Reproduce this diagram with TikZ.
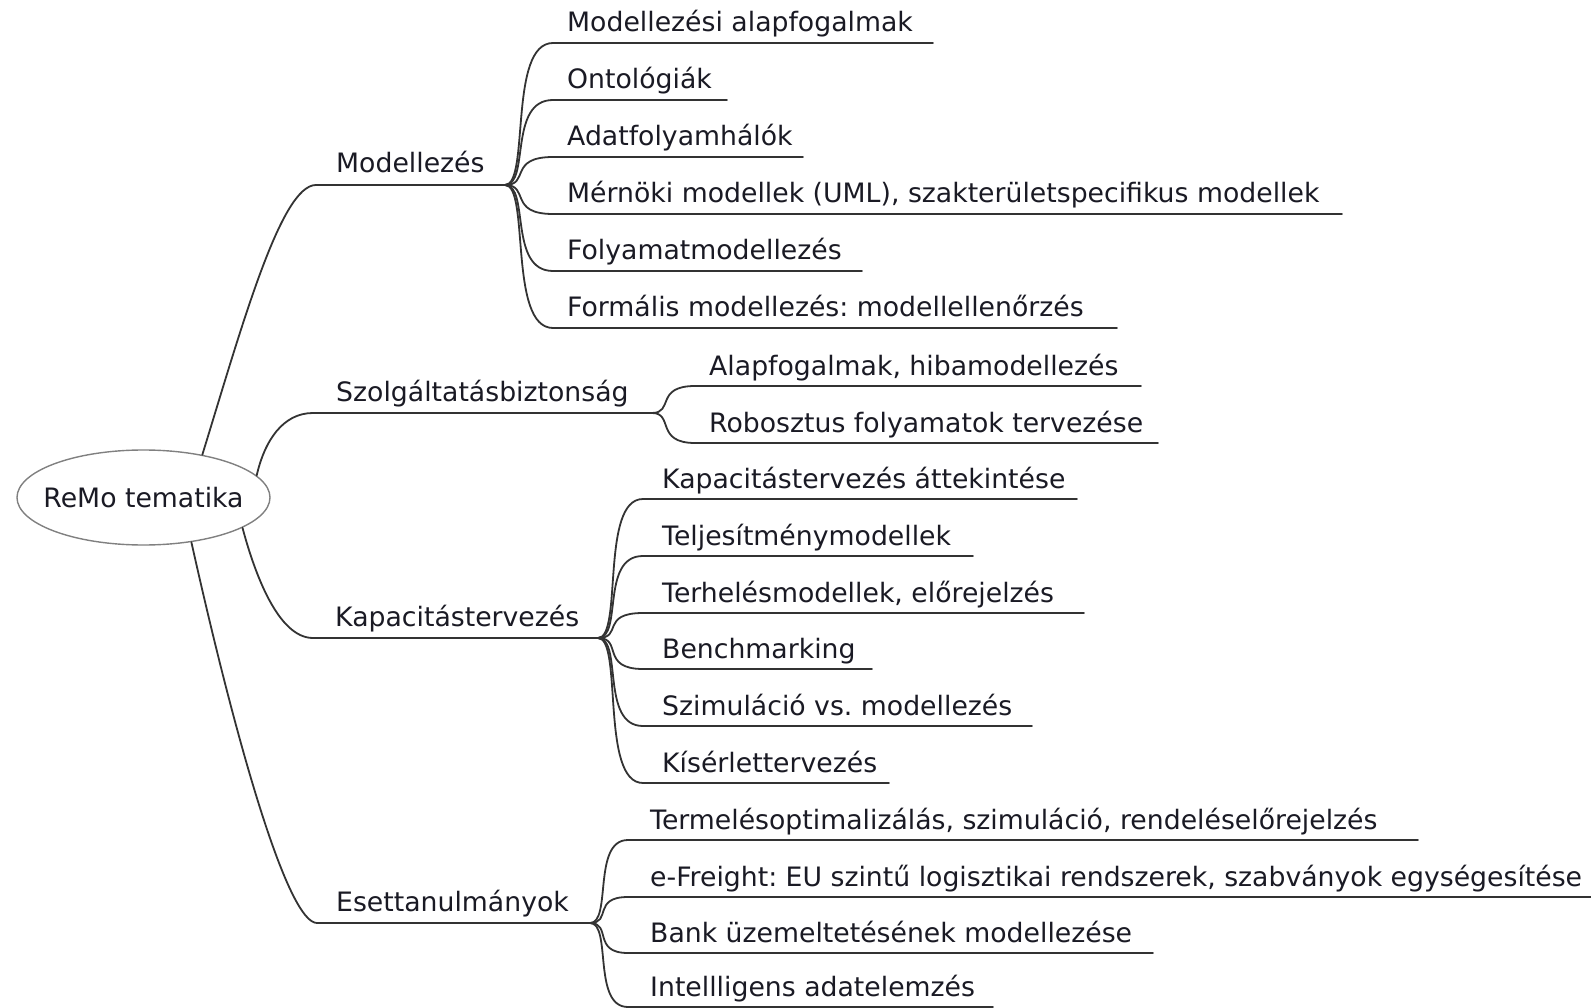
\documentclass[tikz,border=0pt]{standalone}
\usepackage{fontspec}
\setmainfont{DejaVu Sans}
\usetikzlibrary{shapes.geometric}
\frenchspacing

\definecolor{edgecol}{HTML}{333333}
\definecolor{rimcol}{HTML}{808080}
\definecolor{txtcol}{HTML}{1A1A24}

\begin{document}
\begin{tikzpicture}[x=1pt,y=-1pt,
  lbl/.style={anchor=base west, inner sep=0pt, text=txtcol,
              font=\fontsize{26.7}{32}\selectfont},
  edge/.style={draw=edgecol, line width=1.8pt, line cap=round},
  hub/.style={ellipse, draw=rimcol, line width=1.4pt, fill=white,
              minimum width=253pt, minimum height=95pt, inner sep=0pt}]

% canvas
\fill[white] (0,0) rectangle (1591,1008);
\useasboundingbox (0,0) rectangle (1591,1008);

% central topic
\node[hub] (root) at (143.5,497.5) {};
\node[inner sep=0pt, text=txtcol, font=\fontsize{26.7}{32}\selectfont]
  (roottxt) at (root.center) {ReMo tematika};

% main topics: label, underline start and branching point
\node[lbl] (mod) at (336,173) {Modellezés};
\coordinate (m0) at (316,185);  \coordinate (mB) at (505,185);
\node[lbl] (szb) at (336,401) {Szolgáltatásbiztonság};
\coordinate (s0) at (313,413);  \coordinate (sB) at (652,413);
\node[lbl] (kap) at (335,626) {Kapacitástervezés};
\coordinate (k0) at (313,638);  \coordinate (kB) at (598,638);
\node[lbl] (ese) at (336,911) {Esettanulmányok};
\coordinate (e0) at (317,923);  \coordinate (eB) at (590,923);

% connectors from the central topic
\draw[edge] (root.36) .. controls +(40,-130) and +(-35,0) .. (m0) -- (mB);
\draw[edge] (root.11) .. controls +(8,-35) and +(-30,0) .. (s0) -- (sB);
\draw[edge] (root.-17) .. controls +(12,45) and +(-35,0) .. (k0) -- (kB);
\draw[edge] (root.-43) .. controls +(48,215) and +(-28,0) .. (e0) -- (eB);

% subtopics of Modellezés
\foreach \n/\y/\e/\t in {
  ma/43/933/{Modellezési alapfogalmak},
  mb/100/727/{Ontológiák},
  mc/157/803/{Adatfolyamhálók},
  md/214/1342/{Mérnöki modellek (UML), szakterületspecifikus modellek},
  me/271/862/{Folyamatmodellezés},
  mf/328/1117/{Formális modellezés: modellellenőrzés}} {
  \coordinate (j\n) at (553,\y);
  \coordinate (x\n) at (\e,\y);
  \node[lbl] (\n) at (567,\y-11) {\t};
  \draw[edge] (mB) .. controls +(25,0) and +(-45,0) .. (j\n) -- (x\n);
}

% subtopics of Szolgáltatásbiztonság
\foreach \n/\y/\e/\t in {
  sa/386/1141/{Alapfogalmak, hibamodellezés},
  sb/443/1158/{Robosztus folyamatok tervezése}} {
  \coordinate (j\n) at (695,\y);
  \coordinate (x\n) at (\e,\y);
  \node[lbl] (\n) at (709,\y-11) {\t};
  \draw[edge] (sB) .. controls +(22,0) and +(-40,0) .. (j\n) -- (x\n);
}

% subtopics of Kapacitástervezés
\foreach \n/\y/\e/\t in {
  ka/499/1077/{Kapacitástervezés áttekintése},
  kb/556/973/{Teljesítménymodellek},
  kc/613/1084/{Terhelésmodellek, előrejelzés},
  kd/669/872/{Benchmarking},
  ke/726/1032/{Szimuláció vs. modellezés},
  kf/783/889/{Kísérlettervezés}} {
  \coordinate (j\n) at (643,\y);
  \coordinate (x\n) at (\e,\y);
  \node[lbl] (\n) at (662,\y-11) {\t};
  \draw[edge] (kB) .. controls +(25,0) and +(-43,0) .. (j\n) -- (x\n);
}

% subtopics of Esettanulmányok
\foreach \n/\y/\e/\t in {
  ea/840/1418/{Termelésoptimalizálás, szimuláció, rendeléselőrejelzés},
  eb/897/1591/{e-Freight: EU szintű logisztikai rendszerek, szabványok egységesítése},
  ec/953/1153/{Bank üzemeltetésének modellezése},
  ed/1007/993/{Intellligens adatelemzés}} {
  \coordinate (j\n) at (628,\y);
  \coordinate (x\n) at (\e,\y);
  \node[lbl] (\n) at (650,\y-11) {\t};
  \draw[edge] (eB) .. controls +(22,0) and +(-36,0) .. (j\n) -- (x\n);
}
\end{tikzpicture}
\end{document}
